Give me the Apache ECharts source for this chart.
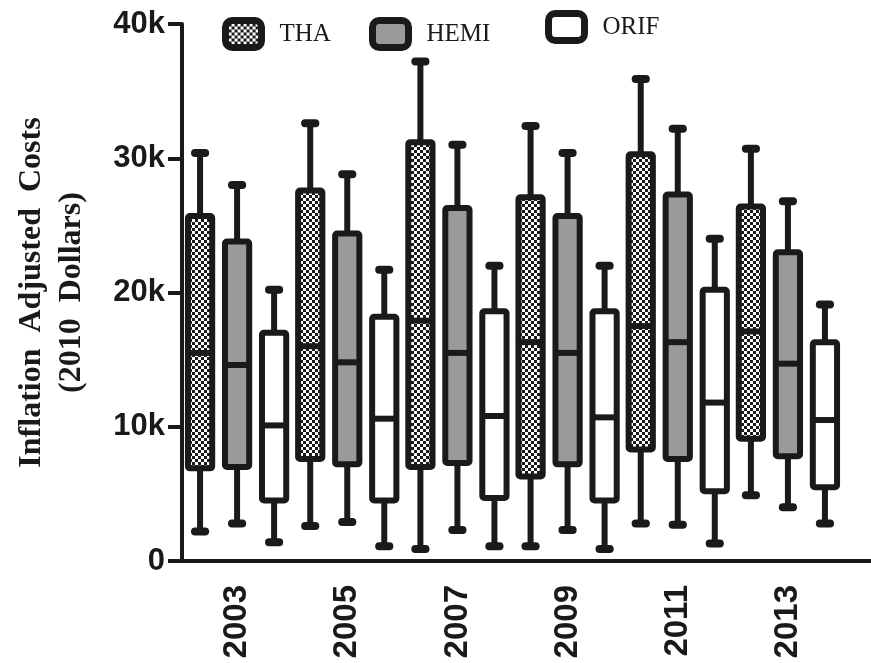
<!DOCTYPE html>
<html>
<head>
<meta charset="utf-8">
<style>
    body { margin: 0; background-color: #fff; }
    #main { width: 871px; height: 663px; }
</style>
</head>
<body>
<div id="main"></div>
<script src="https://cdn.jsdelivr.net/npm/echarts@6/dist/echarts.min.js"></script>
<script type="text/javascript">
    var years = ['2003', '2005', '2007', '2009', '2011', '2013'];
    var yTicks = [0, 10000, 20000, 30000, 40000];

    // each row: [min, q1, median, q3, max] in 2010 dollars
    var tha = [
        [2200, 6900, 15500, 25700, 30400],
        [2600, 7600, 16000, 27600, 32600],
        [900, 7000, 17900, 31200, 37200],
        [1100, 6300, 16300, 27100, 32400],
        [2800, 8300, 17500, 30300, 35900],
        [4900, 9100, 17100, 26400, 30700]
    ];
    var hemi = [
        [2800, 7000, 14600, 23800, 28000],
        [2900, 7200, 14800, 24400, 28800],
        [2300, 7300, 15500, 26300, 31000],
        [2300, 7200, 15500, 25700, 30400],
        [2700, 7600, 16300, 27300, 32200],
        [4000, 7800, 14700, 23000, 26800]
    ];
    var orif = [
        [1400, 4500, 10100, 17000, 20200],
        [1100, 4500, 10600, 18200, 21700],
        [1100, 4700, 10800, 18600, 22000],
        [900, 4500, 10700, 18600, 22000],
        [1300, 5200, 11800, 20200, 24000],
        [2800, 5500, 10500, 16300, 19100]
    ];

    var INK = '#1a1a1a';
    var GRAY = '#9a9a9a';

    // checkerboard fill for THA
    var cb = document.createElement('canvas');
    cb.width = 6;
    cb.height = 6;
    var g = cb.getContext('2d');
    g.fillStyle = '#fff';
    g.fillRect(0, 0, 6, 6);
    g.fillStyle = INK;
    g.fillRect(0, 0, 3, 3);
    g.fillRect(3, 3, 3, 3);
    var checker = { image: cb, repeat: 'repeat' };

    function rows(arr) {
        return arr.map(function (r, i) { return [i].concat(r); });
    }

    function makeRender(shift, fill) {
        return function (params, api) {
            var band = api.size([1, 0])[0];
            var x = api.coord([api.value(0), 0])[0] + band * shift;
            var yMin = api.coord([0, api.value(1)])[1];
            var yQ1 = api.coord([0, api.value(2)])[1];
            var yMed = api.coord([0, api.value(3)])[1];
            var yQ3 = api.coord([0, api.value(4)])[1];
            var yMax = api.coord([0, api.value(5)])[1];
            var bw = band * 0.22;
            var capW = band * 0.165;
            var lw = 6;
            return {
                type: 'group',
                children: [
                    { type: 'line', shape: { x1: x, y1: yMax, x2: x, y2: yQ3 }, style: { stroke: INK, lineWidth: lw } },
                    { type: 'line', shape: { x1: x, y1: yQ1, x2: x, y2: yMin }, style: { stroke: INK, lineWidth: lw } },
                    { type: 'rect', shape: { x: x - capW / 2, y: yMax - 4, width: capW, height: 8, r: 4 }, style: { fill: INK } },
                    { type: 'rect', shape: { x: x - capW / 2, y: yMin - 4, width: capW, height: 8, r: 4 }, style: { fill: INK } },
                    { type: 'rect', shape: { x: x - bw / 2, y: yQ3, width: bw, height: yQ1 - yQ3, r: 2 }, style: { fill: fill, stroke: INK, lineWidth: lw, lineJoin: 'round' } },
                    { type: 'line', shape: { x1: x - bw / 2, y1: yMed, x2: x + bw / 2, y2: yMed }, style: { stroke: INK, lineWidth: lw } }
                ]
            };
        };
    }

    function legendFor(name, fill, left, top) {
        return {
            data: [{ name: name, itemStyle: { color: fill, borderColor: INK, borderWidth: 7 } }],
            left: left,
            top: top,
            padding: 0,
            icon: 'roundRect',
            itemWidth: 36,
            itemHeight: 27,
            selectedMode: false,
            textStyle: { fontFamily: 'Liberation Serif', fontSize: 25, color: INK, padding: [0, 0, 0, 13] }
        };
    }

    function series(name, data, shift, fill) {
        return {
            name: name,
            type: 'custom',
            xAxisIndex: 0,
            yAxisIndex: 0,
            renderItem: makeRender(shift, fill),
            itemStyle: { color: fill, borderColor: INK, borderWidth: 7 },
            encode: { x: 0, y: [1, 2, 3, 4, 5] },
            data: rows(data)
        };
    }

    var myChart = echarts.init(document.getElementById('main'));

    var option = {
        backgroundColor: '#fff',
        animation: false,
        legend: [
            legendFor('THA', checker, 222, 17),
            legendFor('HEMI', GRAY, 369, 17),
            legendFor('ORIF', '#fff', 545, 10)
        ],
        grid: [
            { left: 182, right: 28, top: 24, bottom: 102, containLabel: false },
            { left: 182, right: 0, top: 24, bottom: 102, containLabel: false }
        ],
        xAxis: [
            {
                type: 'category',
                data: years,
                axisLine: { lineStyle: { color: INK, width: 4 } },
                axisTick: { alignWithLabel: true, length: 14, lineStyle: { color: INK, width: 4 } },
                axisLabel: { rotate: 90, margin: 24, fontFamily: 'Liberation Sans', fontWeight: 'bold', fontSize: 33, color: INK },
                splitLine: { show: false }
            },
            {
                // only stretches the base line to the right edge
                type: 'value',
                gridIndex: 1,
                min: 0,
                max: 1,
                axisLine: { show: true, lineStyle: { color: INK, width: 4 } },
                axisTick: { show: false },
                axisLabel: { show: false },
                splitLine: { show: false }
            }
        ],
        yAxis: [
            {
                type: 'value',
                min: yTicks[0],
                max: yTicks[yTicks.length - 1],
                interval: 10000,
                name: 'Inflation  Adjusted  Costs\n(2010  Dollars)',
                nameLocation: 'middle',
                nameRotate: 90,
                nameGap: 90,
                nameTextStyle: { fontFamily: 'Liberation Serif', fontWeight: 'bold', fontSize: 32, lineHeight: 40, color: INK },
                axisLine: { show: true, lineStyle: { color: INK, width: 4 } },
                axisTick: { show: true, length: 14, lineStyle: { color: INK, width: 4 } },
                axisLabel: {
                    margin: 17,
                    fontFamily: 'Liberation Sans',
                    fontWeight: 'bold',
                    fontSize: 31,
                    color: INK,
                    formatter: function (v) { return v === 0 ? '0' : v / 1000 + 'k'; }
                },
                splitLine: { show: false }
            },
            { type: 'value', gridIndex: 1, show: false, min: 0, max: 1 }
        ],
        series: [
            series('THA', tha, -0.336, checker),
            series('HEMI', hemi, 0, GRAY),
            series('ORIF', orif, 0.336, '#fff')
        ]
    };

    myChart.setOption(option);
</script>
</body>
</html>
